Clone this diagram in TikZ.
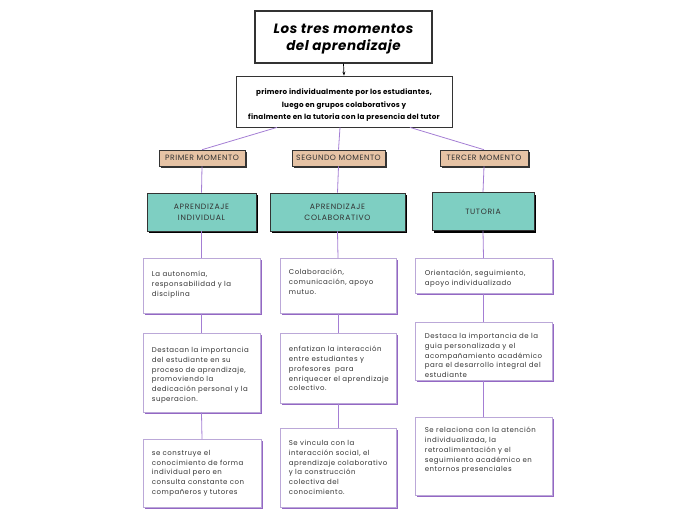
\documentclass[tikz,border=0pt]{standalone}
\usepackage{fontspec}
\setmainfont{Poppins}
\usetikzlibrary{shadows,arrows.meta}
\definecolor{conn}{HTML}{A47ED4}
\definecolor{pbord}{HTML}{BBA8D8}
\definecolor{pshad}{HTML}{9467C4}
\definecolor{tan}{HTML}{E6C3A5}
\definecolor{teal}{HTML}{7ECFC2}
\definecolor{dk}{HTML}{333333}
\tikzset{
  conline/.style={draw=conn, line width=0.8pt},
  titlebox/.style={draw=dk, line width=1.4pt, fill=white, minimum width=177pt, minimum height=52pt, align=center, font=\fontsize{13.5}{17.5}\selectfont\bfseries\itshape\addfontfeatures{LetterSpace=4}},
  subbox/.style={draw=dk, line width=0.8pt, fill=white, minimum width=216pt, minimum height=51pt, align=center, font=\fontsize{7.2}{12.5}\selectfont\bfseries\addfontfeatures{LetterSpace=3}},
  momento/.style={draw=dk, line width=0.6pt, fill=tan, minimum height=16pt, text=dk, font=\fontsize{7.7}{8}\selectfont\addfontfeatures{LetterSpace=7}, drop shadow={shadow xshift=1.5pt, shadow yshift=-1.5pt, fill=dk, opacity=1}},
  tealbox/.style={draw=dk, line width=0.6pt, fill=teal, minimum height=38pt, align=center, text=dk, font=\fontsize{7.7}{11}\selectfont\addfontfeatures{LetterSpace=9}, drop shadow={shadow xshift=2pt, shadow yshift=-2pt, fill=black, opacity=1}},
  pbox/.style={draw=pbord, line width=0.6pt, fill=white, anchor=north, drop shadow={shadow xshift=1.6pt, shadow yshift=-1.6pt, fill=pshad, opacity=1}},
  ptext/.style={anchor=north west, inner sep=0pt, align=left, text=dk, font=\fontsize{7}{9.8}\selectfont\addfontfeatures{LetterSpace=7}},
}
\begin{document}
\begin{tikzpicture}[x=1pt,y=-1pt]
\useasboundingbox (0,0) rectangle (696,520);
% title
\node[titlebox] (title) at (343.5,37) {\rule{0pt}{14pt}Los tres momentos\\del aprendizaje};
\node[subbox] (sub) at (344,101.5) {\rule{0pt}{13pt}primero individualmente por los estudiantes,\\luego en grupos colaborativos y\\finalmente en la tutoria con la presencia del tutor};
\draw[-{Stealth[length=4pt,width=3pt]}, line width=0.7pt] (title.south) -- (sub.north);
% momentos
\node[momento, minimum width=86pt] (m1) at (202,158) {PRIMER MOMENTO};
\node[momento, minimum width=93pt] (m2) at (338.5,158) {SEGUNDO MOMENTO};
\node[momento, minimum width=88pt] (m3) at (484,158) {TERCER MOMENTO};
\draw[conline] ([xshift=-67pt]sub.south) -- (m1.north);
\draw[conline] ([xshift=-4pt]sub.south) -- (m2.north);
\draw[conline] ([xshift=66pt]sub.south) -- (m3.north);
% teal
\node[tealbox, minimum width=109pt] (t1) at (201.5,212) {APRENDIZAJE\\INDIVIDUAL};
\node[tealbox, minimum width=135pt] (t2) at (337.5,212) {APRENDIZAJE\\COLABORATIVO};
\node[tealbox, minimum width=102pt] (t3) at (483,211.5) {TUTORIA};
\draw[conline] (m1.south) -- (t1.north);
\draw[conline] (m2.south) -- (t2.north);
\draw[conline] (m3.south) -- (t3.north);
% column 1
\node[pbox, minimum width=117pt, minimum height=55pt] (a1) at (201.5,258) {};
\node[ptext] (a1t) at ([shift={(9,13)}]a1.north west) {La autonomía,\\responsabilidad y la\\disciplina};
\node[pbox, minimum width=117pt, minimum height=79pt] (a2) at (201.5,333) {};
\node[ptext] (a2t) at ([shift={(9,14)}]a2.north west) {Destacan la importancia\\del estudiante en su\\proceso de aprendizaje,\\promoviendo la\\dedicación personal y la\\superacion.};
\node[pbox, minimum width=118pt, minimum height=68pt] (a3) at (202,439) {};
\node[ptext] (a3t) at ([shift={(9,11)}]a3.north west) {se construye el\\conocimiento de forma\\individual pero en\\consulta constante con\\compañeros y tutores};
\draw[conline] (t1.south) -- (a1.north);
\draw[conline] (a1.south) -- (a2.north);
\draw[conline] (a2.south) -- (a3.north);
% column 2
\node[pbox, minimum width=116pt, minimum height=55pt] (b1) at (338,258) {};
\node[ptext] (b1t) at ([shift={(9,11)}]b1.north west) {Colaboración,\\comunicación, apoyo\\mutuo.};
\node[pbox, minimum width=116pt, minimum height=70pt] (b2) at (338,333) {};
\node[ptext] (b2t) at ([shift={(9,13)}]b2.north west) {enfatizan la interacción\\entre estudiantes y\\profesores\ \ para\\enriquecer el aprendizaje\\colectivo.};
\node[pbox, minimum width=116pt, minimum height=79pt] (b3) at (338,428) {};
\node[ptext] (b3t) at ([shift={(9,12)}]b3.north west) {Se vincula con la\\interacción social, el\\aprendizaje colaborativo\\y la construcción\\colectiva del\\conocimiento.};
\draw[conline] (t2.south) -- (b1.north);
\draw[conline] (b1.south) -- (b2.north);
\draw[conline] (b2.south) -- (b3.north);
% column 3
\node[pbox, minimum width=137pt, minimum height=35pt] (c1) at (483.5,258) {};
\node[ptext] (c1t) at ([shift={(10,12)}]c1.north west) {Orientación, seguimiento,\\apoyo individualizado};
\node[pbox, minimum width=137pt, minimum height=58pt] (c2) at (483.5,322) {};
\node[ptext] (c2t) at ([shift={(10,11)}]c2.north west) {Destaca la importancia de la\\guia personalizada y el\\acompañamiento académico\\para el desarrollo integral del\\estudiante};
\node[pbox, minimum width=137pt, minimum height=78pt] (c3) at (483.5,417) {};
\node[ptext] (c3t) at ([shift={(10,10)}]c3.north west) {Se relaciona con la atención\\individualizada, la\\retroalimentación y el\\seguimiento académico en\\entornos presenciales};
\draw[conline] (t3.south) -- (c1.north);
\draw[conline] (c1.south) -- (c2.north);
\draw[conline] (c2.south) -- (c3.north);
\end{tikzpicture}
\end{document}
